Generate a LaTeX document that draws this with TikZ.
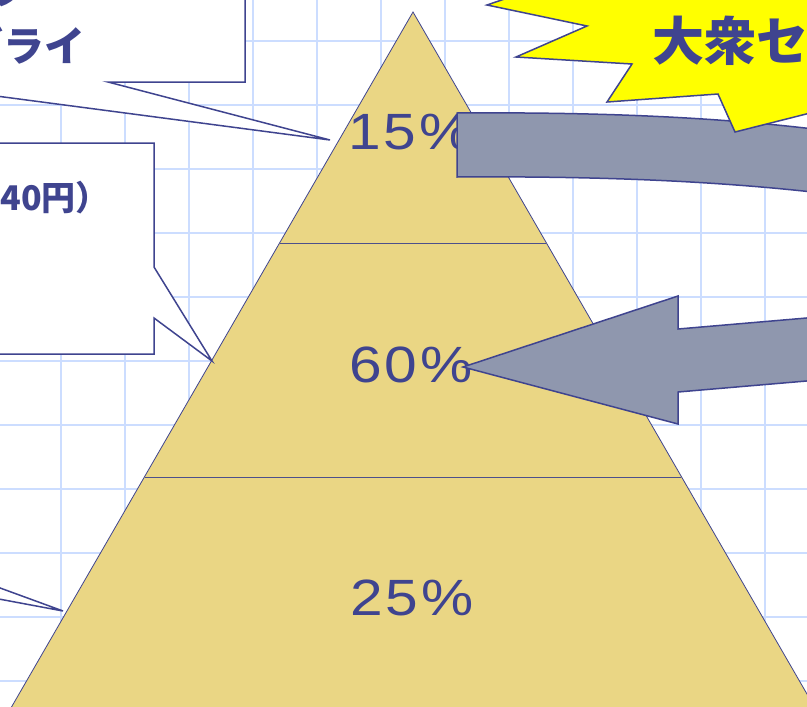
\documentclass[tikz,border=0pt]{standalone}
\usepackage{fontspec}
\setmainfont{Liberation Sans}
\newfontfamily\pctfont[FakeStretch=1.15]{Liberation Sans}
\newfontfamily\cjk{Noto Sans CJK JP}
\definecolor{ink}{RGB}{63,68,143}
\definecolor{gridc}{RGB}{204,221,255}
\definecolor{pyr}{RGB}{234,214,132}
\definecolor{arrowc}{RGB}{143,151,174}
\definecolor{boom}{RGB}{255,255,0}
\tikzset{
  gridline/.style={draw=gridc,line width=1.8pt},
  pyrpart/.style={fill=pyr,draw=ink,line width=0.8pt},
  divline/.style={draw=ink!80!gray,line width=0.8pt},
  callout/.style={fill=white,draw=ink,line width=1.5pt,line join=miter},
  bigarrow/.style={fill=arrowc,draw=ink,line width=1.5pt},
  boomshape/.style={fill=boom,draw=ink,line width=1.5pt},
  pct/.style={text=ink,font=\pctfont\fontsize{51}{51}\selectfont,inner sep=0pt},
  jtext/.style={text=ink,inner sep=0pt},
}
\newcommand{\pctgap}{\kern3pt}
\begin{document}
\begin{tikzpicture}[x=1pt,y=-1pt]
\useasboundingbox (0,0) rectangle (807,707);
\clip (0,0) rectangle (807,707);
\fill[white] (0,0) rectangle (807,707);
% grid
\foreach \i in {0,...,11} \draw[gridline] ({61+64*\i},-5) -- ({61+64*\i},712);
\foreach \j in {0,...,10} \draw[gridline] (-5,{41+64*\j}) -- (812,{41+64*\j});
% pyramid
\coordinate (apex) at (413,12);
\coordinate (bl) at (4,720);
\coordinate (br) at (822,720);
\coordinate (d1l) at (279.7,243);
\coordinate (d1r) at (546.3,243);
\coordinate (d2l) at (144.7,477);
\coordinate (d2r) at (681.3,477);
\draw[pyrpart] (apex) -- (br) -- (bl) -- cycle;
\draw[divline] (d1l) -- (d1r);
\draw[divline] (d2l) -- (d2r);
% percentages
\node[pct,anchor=base] (p15) at (410,149) {1\pctgap 5\pctgap\%};
\node[pct,anchor=base] (p60) at (411,382) {6\pctgap 0\pctgap\%};
\node[pct,anchor=base] (p25) at (412,615) {2\pctgap 5\pctgap\%};
% curved band at top
\draw[bigarrow] (457,113) .. controls (600,112) and (720,117) .. (830,131) -- (830,194) .. controls (720,181) and (600,176) .. (457,177) -- cycle;
% explosion
\draw[boomshape] (560,-20) -- (487,5) -- (587,26) -- (516,57) -- (632,64) -- (607,102) -- (718,94) -- (735,132) -- (830,108) -- (830,-20) -- cycle;
\node[jtext,anchor=base west,font=\cjk\bfseries\fontsize{52}{52}\selectfont] (boomtext) at (652,60) {大衆セ};
% left arrow into 60%
\draw[bigarrow] (463,367) -- (678,296) -- (678,329) -- (830,316) -- (830,379) -- (678,392) -- (678,424) -- cycle;
% callout boxes
\draw[callout] (-10,-10) -- (245,-10) -- (245,82) -- (108,82) -- (330,140) -- (-110,82) -- cycle;
\node[jtext,anchor=base east,font=\cjk\bfseries\fontsize{41}{41}\selectfont] (c1a) at (30,4) {フ};
\node[jtext,anchor=base east,font=\cjk\bfseries\fontsize{41}{41}\selectfont] (c1b) at (86,61) {ブライ};
\draw[callout] (-10,143) -- (154,143) -- (154,267) -- (212,361) -- (154,318) -- (154,354) -- (-10,354) -- cycle;
\node[jtext,anchor=base east,font=\cjk\bfseries\fontsize{34}{34}\selectfont] (c2) at (110,210) {40円）};
\draw[callout] (-60,566) -- (63,611) -- (-60,588);
\end{tikzpicture}
\end{document}
